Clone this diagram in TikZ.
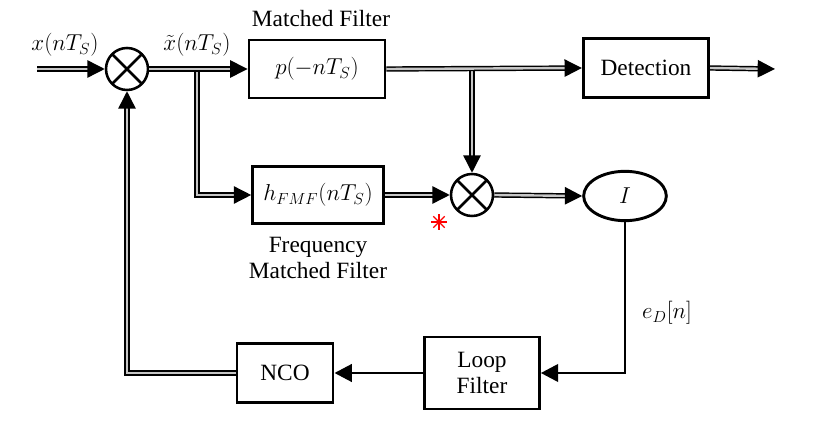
\documentclass[tikz,border=0pt]{standalone}
\usepackage{fontspec}
\setmainfont{Liberation Serif}
\usetikzlibrary{arrows.meta,shapes.geometric}

\begin{document}
\begin{tikzpicture}[x=0.75pt,y=0.75pt,yscale=-1,xscale=1,
  font=\fontsize{17.5}{20}\selectfont,
  box/.style={draw, line width=2.2pt, inner sep=2pt, align=center},
  mixer/.style={circle, draw, line width=1.9pt, minimum size=31.5pt, inner sep=0pt,
    path picture={\draw[line width=1.9pt] (path picture bounding box.north west) -- (path picture bounding box.south east) (path picture bounding box.south west) -- (path picture bounding box.north east);}},
  dbl/.style={draw=black, line width=1.1pt, double=gray!45, double distance=1.8pt},
  sgl/.style={line width=2.2pt},
  arr/.style={-{Triangle[length=13pt,width=13pt]}}]
\useasboundingbox (0,0) rectangle (826,424);

%Shape: Mixers
\draw (127,69) node (mix1) [mixer] {};
\draw (472,195) node (mix2) [mixer] {};
%Shape: Rectangle
\draw (317,69) node (mf) [box, minimum width=102pt, minimum height=43.5pt] {$p(-nT_S)$};
%Shape: Rectangle
\draw (646,68) node (det) [box, minimum width=94pt, minimum height=44pt] {Detection};
%Shape: Rectangle
\draw (318,195) node (fmf) [box, minimum width=98pt, minimum height=43pt] {$h_{FMF}(nT_S)$};
%Shape: Ellipse
\draw (625,196) node (iblk) [ellipse, draw, line width=2.2pt, minimum width=62pt, minimum height=37pt, inner sep=0pt] {$I$};
%Shape: Rectangle
\draw (482,373) node (lf) [box, minimum width=86pt, minimum height=54pt] {Loop\\Filter};
%Shape: Rectangle
\draw (285,373) node (nco) [box, minimum width=72pt, minimum height=44pt] {NCO};

\coordinate (in) at (37,69);
\coordinate (br1) at (197,69);
\coordinate (br2) at (472,69);
\coordinate (out) at (775,69);

%Straight Lines: branches
\draw [dbl,arr] (br1) |- (fmf.west);
\draw [dbl,arr] (br2) -- (mix2.north);
%Straight Lines
\draw [dbl,arr] (in) -- (mix1.west);
\draw [dbl,arr] (mix1.east) -- (mf.west);
\draw [dbl,arr] (mf.east) -- (det.west);
\draw [dbl,arr] (det.east) -- (out);
\draw [dbl,arr] (fmf.east) -- (mix2.west);
\draw [dbl,arr] (mix2.east) -- (iblk.west);
\draw [sgl,arr] (iblk.south) |- (lf.east);
\draw [sgl,arr] (lf.west) -- (nco.east);
\draw [dbl,arr] (nco.west) -| (mix1.south);

% Text Node
\draw (65,45) node (xin) {$x(nT_S)$};
% Text Node
\draw (197,45) node (xt) {$\tilde{x}(nT_S)$};
% Text Node
\draw (321,19) node (mflbl) {Matched Filter};
% Text Node
\draw (318,258) node (fmflbl) [align=center] {Frequency\\Matched Filter};
% Text Node
\draw (667,313) node (edlbl) {$e_D[n]$};
%Shape: Red asterisk
\coordinate (star) at (439,222);
\foreach \a in {0,45,90,135}
  \draw [red, line width=0.9pt] (star) ++(\a:8) -- ++(\a+180:16);

\end{tikzpicture}
\end{document}
